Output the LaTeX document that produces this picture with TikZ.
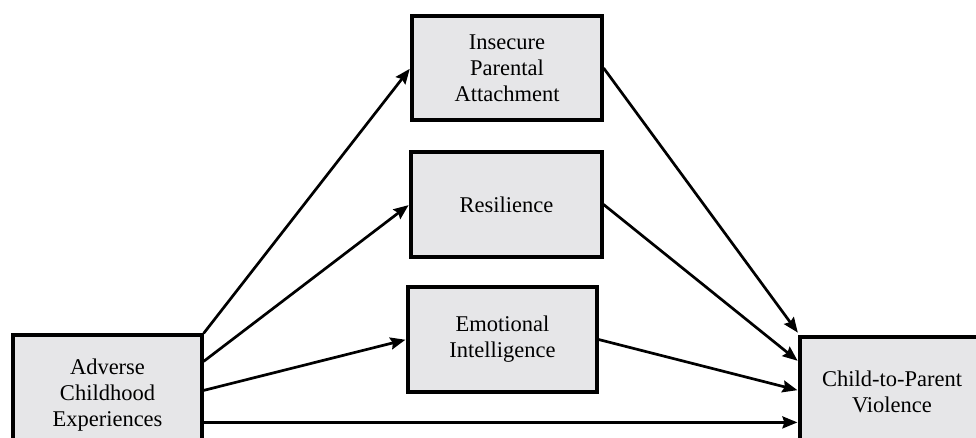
\documentclass[tikz,border=0pt]{standalone}
\usepackage{fontspec}
\setmainfont{Liberation Serif}
\usetikzlibrary{arrows.meta}

\definecolor{boxgray}{RGB}{230,230,232}

\begin{document}
\begin{tikzpicture}[
    x=1pt, y=-1pt,
    >={Stealth[length=15pt, width=12pt, inset=2pt]},
    box/.style={
        draw,
        line width=3.2pt,
        fill=boxgray,
        align=center,
        inner sep=0pt,
        font=\fontsize{22.5}{26}\selectfont
    },
    path/.style={->, line width=2.7pt, shorten >=1pt}
]
\useasboundingbox (0,0) rectangle (976,437);

% variables
\node[box, minimum width=189pt, minimum height=120pt] (ace) at (107.5,395) {Adverse\\Childhood\\Experiences};
\node[box, minimum width=190pt, minimum height=104pt] (ipa) at (507,68) {Insecure\\Parental\\Attachment};
\node[box, minimum width=191pt, minimum height=105pt] (res) at (506.5,204.5) {Resilience};
\node[box, minimum width=189pt, minimum height=105pt] (emo) at (502.5,339.5) {Emotional\\Intelligence};
\node[box, minimum width=184pt, minimum height=110pt] (cpv) at (892,392) {Child-to-Parent\\Violence};

% paths out of the predictor
\coordinate (a1) at (ace.north east);
\coordinate (a2) at ([yshift=-28pt]ace.north east);
\coordinate (a3) at ([yshift=-57pt]ace.north east);
\coordinate (a4) at ([yshift=-89pt]ace.north east);
% paths into the outcome
\coordinate (c1) at ([yshift=2pt]cpv.north west);
\coordinate (c2) at ([yshift=-26pt]cpv.north west);
\coordinate (c3) at ([yshift=-55pt]cpv.north west);

\draw[path] (a1) -- (ipa.west);
\draw[path] (a2) -- (res.west);
\draw[path] (a3) -- (emo.west);
\draw[path] (a4) -- (a4 -| cpv.west);

\draw[path] (ipa.east) -- (c1);
\draw[path] (res.east) -- (c2);
\draw[path] (emo.east) -- (c3);
\end{tikzpicture}
\end{document}
